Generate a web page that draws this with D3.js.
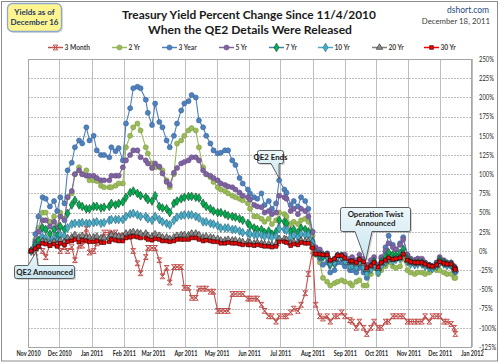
<!DOCTYPE html>
<html><head><meta charset="utf-8">
<script src="https://cdn.jsdelivr.net/npm/d3@7/dist/d3.min.js"></script>
<style>body{margin:0;background:#fff}svg{display:block}text{font-family:Lato,'Open Sans',sans-serif}</style>
</head><body>
<script>
const dates = ["2010-11-04","2010-11-08","2010-11-11","2010-11-15","2010-11-18","2010-11-22","2010-11-26","2010-11-29",
"2010-12-02","2010-12-06","2010-12-09","2010-12-13","2010-12-16","2010-12-20","2010-12-23","2010-12-27","2010-12-30",
"2011-01-03","2011-01-06","2011-01-10","2011-01-13","2011-01-18","2011-01-20","2011-01-24","2011-01-27","2011-01-31",
"2011-02-03","2011-02-07","2011-02-10","2011-02-14","2011-02-17","2011-02-22","2011-02-24","2011-02-28",
"2011-03-03","2011-03-07","2011-03-10","2011-03-14","2011-03-17","2011-03-21","2011-03-24","2011-03-28","2011-03-31",
"2011-04-04","2011-04-07","2011-04-11","2011-04-14","2011-04-18","2011-04-21","2011-04-25","2011-04-28",
"2011-05-02","2011-05-05","2011-05-09","2011-05-12","2011-05-16","2011-05-19","2011-05-23","2011-05-26","2011-05-31",
"2011-06-02","2011-06-06","2011-06-09","2011-06-13","2011-06-16","2011-06-20","2011-06-23","2011-06-27","2011-06-30",
"2011-07-05","2011-07-07","2011-07-11","2011-07-14","2011-07-18","2011-07-21","2011-07-25","2011-07-28",
"2011-08-01","2011-08-04","2011-08-08","2011-08-11","2011-08-15","2011-08-18","2011-08-22","2011-08-25","2011-08-29",
"2011-09-01","2011-09-06","2011-09-08","2011-09-12","2011-09-15","2011-09-19","2011-09-22","2011-09-26","2011-09-29",
"2011-10-03","2011-10-06","2011-10-10","2011-10-13","2011-10-17","2011-10-20","2011-10-24","2011-10-27","2011-10-31",
"2011-11-03","2011-11-07","2011-11-10","2011-11-14","2011-11-17","2011-11-21","2011-11-24","2011-11-28",
"2011-12-01","2011-12-05","2011-12-08","2011-12-12","2011-12-15","2011-12-16"];

const month3 = [0,-8,8,0,-8,8,15,8,
0,5,0,5,-12,7,7,29,-2,
0,10,15,24,24,22,24,19,20,
19,19,0,-16,-29,-8,4,4,
4,-12,-33,-22,-41,-21,-21,-21,-48,
-48,-61,-61,-49,-49,-49,-53,-53,
-78,-78,-78,-78,-56,-56,-56,-56,-62,
-62,-62,-62,-70,-78,-85,-85,-92,-85,
-85,-85,-80,-75,-78,-70,-55,-30,
0,-70,-85,-88,-85,-92,-85,-85,-80,
-85,-90,-92,-100,-92,-100,-108,-100,-92,
-100,-100,-92,-92,-85,-85,-85,-85,-92,
-92,-92,-92,-92,-85,-92,-85,-85,
-85,-92,-92,-95,-100,-108];

const yr2 = [0,15,30,50,50,38,45,32,
50,42,70,75,100,109,100,105,92,
92,91,85,83,83,83,85,88,88,
135,150,161,166,157,135,127,114,
109,109,105,92,83,100,140,144,150,
157,160,157,135,109,100,96,90,
83,80,78,75,72,70,68,66,62,
55,45,45,42,38,42,35,40,50,
48,45,35,38,35,40,42,38,
20,-5,-15,-35,-40,-45,-42,-40,-38,
-40,-42,-45,-40,-38,-45,-45,-30,-22,
-30,-25,-20,-15,-20,-22,-20,-10,-25,
-28,-30,-28,-28,-30,-28,-22,-25,
-25,-28,-30,-30,-35,-35];

const yr3 = [0,22,45,70,68,58,65,52,
70,62,105,115,135,144,140,161,144,
150,131,125,125,122,135,130,134,118,
166,186,212,214,212,197,180,164,
192,168,161,144,135,150,166,183,192,
195,203,200,170,161,150,140,131,
127,128,131,131,118,112,95,88,80,
75,70,68,75,60,65,55,62,92,
80,76,60,65,58,70,65,55,
25,0,-10,-18,-15,-28,-25,-15,-15,
-20,-25,-25,-28,-22,-28,-35,-22,-15,
-25,-10,5,20,8,2,10,18,-5,
-10,-12,-10,-12,-15,-18,-20,-15,
-10,-15,-18,-20,-25,-28];

const yr5 = [0,12,25,40,40,32,38,30,
45,40,70,78,100,105,100,98,98,
98,95,92,92,92,98,98,98,109,
118,125,131,131,122,118,114,108,
114,110,101,90,86,102,108,114,116,
118,122,122,118,105,100,98,95,
92,88,86,84,83,80,76,72,70,
67,60,58,57,50,52,48,50,72,
70,68,52,55,48,55,52,45,
25,5,2,-5,-3,-15,-12,-5,-5,
-5,-10,-8,-12,-5,-10,-18,-12,-8,
-18,-8,0,10,5,2,8,15,-5,
-10,-12,-10,-10,-15,-18,-20,-15,
-8,-12,-15,-15,-20,-22];

const yr7 = [0,8,14,30,28,22,28,20,
32,28,49,60,66,60,58,55,55,
58,58,56,57,58,62,60,62,64,
70,76,78,75,72,70,67,65,
72,58,56,55,50,62,65,68,70,
71,71,70,69,62,58,55,52,
50,50,48,46,45,44,42,40,36,
33,30,28,28,24,26,22,25,40,
38,36,26,28,24,30,28,25,
12,-2,-6,-8,-8,-18,-16,-8,-8,
-12,-18,-17,-20,-12,-18,-28,-20,-14,
-25,-14,-8,-2,-5,-6,-3,2,-10,
-14,-16,-15,-15,-18,-20,-22,-18,
-12,-15,-17,-17,-22,-24];

const yr10 = [0,4,7,18,17,13,17,13,
21,19,30,35,36,36,37,36,36,
37,38,36,37,40,41,41,41,41,
45,48,49,47,45,45,42,40,
45,41,38,36,34,40,44,46,47,
47,47,45,43,38,38,36,35,
33,30,30,30,28,28,26,24,23,
22,21,21,21,19,20,18,19,29,
28,27,18,20,18,22,21,21,
11,-2,-5,-5,-7,-16,-15,-8,-8,
-13,-20,-19,-21,-16,-21,-30,-24,-19,
-28,-19,-15,-11,-13,-11,-10,-3,-14,
-17,-18,-17,-17,-20,-22,-23,-20,
-15,-17,-19,-18,-23,-25];

const yr20 = [0,3,6,13,12,10,12,9,
14,12,17,18,21,18,20,18,18,
18,19,17,17,18,21,20,19,19,
23,24,25,24,23,23,20,19,
22,20,18,18,16,18,20,21,21,
21,23,23,21,18,19,18,17,
16,14,14,15,14,14,13,12,12,
11,10,11,10,9,9,8,9,16,
16,15,10,12,11,14,13,13,
6,-3,-4,-5,-5,-13,-11,-6,-6,
-10,-15,-14,-17,-12,-16,-24,-20,-16,
-23,-16,-13,-9,-11,-10,-9,-4,-12,
-15,-16,-16,-16,-18,-20,-21,-19,
-14,-16,-18,-17,-22,-25];

const yr30 = [0,3,6,10,9,7,9,6,
10,8,12,13,15,12,14,13,12,
12,13,11,11,12,15,14,13,13,
17,18,19,18,17,17,15,14,
16,15,13,13,12,13,15,15,15,
15,17,17,15,13,14,13,12,
12,10,10,11,10,10,9,8,8,
8,7,8,7,6,6,5,6,12,
12,11,7,9,8,11,10,10,
4,-4,-4,-5,-5,-12,-10,-6,-6,
-9,-13,-13,-15,-11,-14,-22,-19,-15,
-21,-15,-12,-9,-11,-10,-9,-4,-12,
-14,-15,-15,-15,-17,-19,-20,-18,
-14,-16,-17,-17,-22,-24];

const seriesNames = ["3 Month","2 Yr","3 Year","5 Yr","7 Yr","10 Yr","20 Yr","30 Yr"];
const seriesValues = [month3, yr2, yr3, yr5, yr7, yr10, yr20, yr30];
const yTicks = [-125,-100,-75,-50,-25,0,25,50,75,100,125,150,175,200,225,250];
const titleLines = ["Treasury Yield Percent Change Since 11/4/2010","When the QE2 Details Were Released"];
const noteLines = ["Yields as of","December 16"];
const sourceText = "dshort.com";
const dateText = "December 18, 2011";
const callouts = [
  {lines:["QE2 Announced"], date:"2010-11-04", value:0},
  {lines:["QE2 Ends"], date:"2011-06-30", value:97},
  {lines:["Operation Twist","Announced"], date:"2011-09-21", value:-10}
];

const styles = [
  {line:"#C0504D", fill:"none", stroke:"#C0504D", shape:"star", size:5},
  {line:"#9BBB59", fill:"#9BBB59", stroke:"#7E9C43", shape:"circle", size:20},
  {line:"#4F81BD", fill:"#4F81BD", stroke:"#3A659A", shape:"circle", size:20},
  {line:"#8064A2", fill:"#8064A2", stroke:"#654C84", shape:"circle", size:20},
  {line:"#4A7EBB", fill:"#00B050", stroke:"#17452A", shape:"diamond", size:22},
  {line:"#4BACC6", fill:"#4BACC6", stroke:"#27657A", shape:"diamond", size:22},
  {line:"#7F7F7F", fill:"#8C8C8C", stroke:"#262626", shape:"triangle", size:18},
  {line:"#FF0000", fill:"#FF0000", stroke:"#1A0000", shape:"square", size:14}
];

const parse = d3.timeParse("%Y-%m-%d");
const X = dates.map(parse);
const svg = d3.select("body").append("svg").attr("width",500).attr("height",363);

const x = d3.scaleTime().domain([new Date(2010,10,1), new Date(2012,0,1)]).range([28,472]);
const y = d3.scaleLinear().domain([-125,250]).range([347,59]);

function condense(sel,f){sel.each(function(){const l=this.getComputedTextLength();d3.select(this).attr("textLength",(l*f).toFixed(1)).attr("lengthAdjust","spacingAndGlyphs");});}

svg.append("rect").attr("x",1.5).attr("y",1.5).attr("width",496).attr("height",359.5)
  .attr("fill","#fff").attr("stroke","#8C8C8C").attr("stroke-width",1);

const months = d3.timeMonth.range(new Date(2010,10,1), new Date(2012,0,2));
svg.append("g").selectAll("line").data(yTicks).join("line")
  .attr("x1",28).attr("x2",472).attr("y1",d=>Math.round(y(d))+0.5).attr("y2",d=>Math.round(y(d))+0.5)
  .attr("stroke","#BDBDBD").attr("stroke-width",1).attr("stroke-dasharray","2,1");
svg.append("g").selectAll("line").data(months).join("line")
  .attr("y1",59).attr("y2",347).attr("x1",d=>Math.round(x(d))+0.5).attr("x2",d=>Math.round(x(d))+0.5)
  .attr("stroke","#BDBDBD").attr("stroke-width",1);
svg.append("rect").attr("x",28.5).attr("y",59.5).attr("width",443).attr("height",288)
  .attr("fill","none").attr("stroke","#A6A6A6");

const gx = svg.append("g").attr("transform","translate(0,347)")
  .call(d3.axisBottom(x).tickValues(months).tickFormat(d3.timeFormat("%b %Y")).tickSize(0).tickPadding(4.5));
gx.select(".domain").remove();
gx.selectAll("text").attr("font-size","6.9px").attr("font-weight","bold").attr("fill","#262626")
  .style("font-family","Lato,'Open Sans',sans-serif");
condense(gx.selectAll("text"),0.8);

const gy = svg.append("g").attr("transform","translate(472,0)")
  .call(d3.axisRight(y).tickValues(yTicks).tickFormat(d=>d+"%").tickSize(0).tickPadding(7));
gy.select(".domain").remove();
gy.selectAll("text").attr("font-size","6.9px").attr("fill","#262626")
  .style("font-family","Lato,'Open Sans',sans-serif");
condense(gy.selectAll("text"),0.85);

function markerPath(shape,size){
  if(shape==="star"){const s=2.4;return `M${-s},${-s}L${s},${-s}M${-s},${s}L${s},${s}M${-s},${-s}L${s},${s}M${s},${-s}L${-s},${s}`;}
  const t={circle:d3.symbolCircle,diamond:d3.symbolDiamond,triangle:d3.symbolTriangle,square:d3.symbolSquare}[shape];
  return d3.symbol(t,size)();
}

const lineGen = d3.line().x(d=>x(d[0])).y(d=>y(d[1]));
const plot = svg.append("g");
seriesValues.forEach((vals,i)=>{
  const st = styles[i];
  const pts = vals.map((v,j)=>[X[j],v]);
  const g = plot.append("g");
  g.append("path").attr("d",lineGen(pts)).attr("fill","none").attr("stroke",st.line).attr("stroke-width",1.1);
  const mp = markerPath(st.shape,st.size);
  g.selectAll("path.m").data(pts).join("path").attr("class","m")
    .attr("transform",d=>`translate(${x(d[0])},${y(d[1])})`).attr("d",mp)
    .attr("fill",st.fill).attr("stroke",st.stroke).attr("stroke-width",st.shape==="star"?1:0.6);
});

const legX = [48,112,162,219,269,318,372,424];
const legY = 47.5;
const lg = svg.append("g");
seriesNames.forEach((n,i)=>{
  const st = styles[i], x0 = legX[i];
  lg.append("line").attr("x1",x0).attr("x2",x0+15).attr("y1",legY).attr("y2",legY).attr("stroke",st.line).attr("stroke-width",1.5);
  lg.append("path").attr("transform",`translate(${x0+7.5},${legY})`).attr("d",markerPath(st.shape,st.size))
    .attr("fill",st.fill).attr("stroke",st.stroke).attr("stroke-width",st.shape==="star"?1:0.6);
  const t = lg.append("text").attr("x",x0+16.5).attr("y",legY+2.6).attr("font-size","7.4px").attr("font-weight","bold")
    .attr("fill","#404040").text(n);
  condense(t,0.9);
});

function fitText(sel,target){const l=sel.node().getComputedTextLength();const fs=parseFloat(sel.attr("font-size"));sel.attr("font-size",(fs*target/l).toFixed(2)+"px");}
const t1 = svg.append("text").attr("x",249).attr("y",18.5).attr("text-anchor","middle").attr("font-size","14px")
  .attr("font-weight","bold").attr("fill","#1A1A1A").text(titleLines[0]);
fitText(t1,254);
const t2 = svg.append("text").attr("x",250).attr("y",33.5).attr("text-anchor","middle").attr("font-size","14px")
  .attr("font-weight","bold").attr("fill","#1A1A1A").text(titleLines[1]);
fitText(t2,204);

svg.append("text").attr("x",489).attr("y",12.5).attr("text-anchor","end").attr("font-size","8.5px")
  .attr("fill","#1F497D").text(sourceText);
svg.append("text").attr("x",490).attr("y",23.5).attr("text-anchor","end").attr("font-size","7.8px")
  .attr("fill","#404040").text(dateText);

svg.append("rect").attr("x",9).attr("y",5).attr("width",54).attr("height",28).attr("rx",5)
  .attr("fill","#A0A0A0").attr("opacity",0.35);
svg.append("rect").attr("x",7.5).attr("y",3.5).attr("width",54).attr("height",28).attr("rx",5)
  .attr("fill","#FFF58F").attr("stroke","#8EA9CC").attr("stroke-width",1.3);
noteLines.forEach((s,i)=>svg.append("text").attr("x",34.5).attr("y",14.8+i*10.6).attr("text-anchor","middle")
  .attr("font-size","8px").attr("font-weight","bold").attr("fill","#1F3864").text(s));

const defs = svg.append("defs");
const grad = defs.append("linearGradient").attr("id","cg").attr("x1",0).attr("y1",0).attr("x2",0).attr("y2",1);
grad.append("stop").attr("offset","0%").attr("stop-color","#EEF7FA");
grad.append("stop").attr("offset","100%").attr("stop-color","#C9E5EF");
function calloutPath(bx,by,w,h,side,w1,w2,tx,ty){
  const r=2;
  if(side==="bottom"){
    return `M${bx+r},${by}L${bx+w-r},${by}Q${bx+w},${by} ${bx+w},${by+r}L${bx+w},${by+h-r}Q${bx+w},${by+h} ${bx+w-r},${by+h}`+
      `L${w2},${by+h}L${tx},${ty}L${w1},${by+h}L${bx+r},${by+h}Q${bx},${by+h} ${bx},${by+h-r}L${bx},${by+r}Q${bx},${by} ${bx+r},${by}Z`;
  }
  return `M${bx+r},${by}L${w1},${by}L${tx},${ty}L${w2},${by}L${bx+w-r},${by}Q${bx+w},${by} ${bx+w},${by+r}L${bx+w},${by+h-r}Q${bx+w},${by+h} ${bx+w-r},${by+h}`+
    `L${bx+r},${by+h}Q${bx},${by+h} ${bx},${by+h-r}L${bx},${by+r}Q${bx},${by} ${bx+r},${by}Z`;
}
const cLayout = [
  {bx:14.5,by:265.5,w:60,h:13,side:"top",w1:28,w2:38,dx:5,dy:1},
  {bx:257.5,by:150.5,w:26,h:13,side:"bottom",w1:271,w2:279,dx:0,dy:2},
  {bx:340.5,by:207.5,w:70,h:24,side:"bottom",w1:355,w2:372,dx:0,dy:2}
];
callouts.forEach((c,i)=>{
  const L=cLayout[i];
  const tx=x(parse(c.date))+L.dx, ty=y(c.value)+L.dy;
  const d=calloutPath(L.bx,L.by,L.w,L.h,L.side,L.w1,L.w2,tx,ty);
  svg.append("path").attr("d",d).attr("transform","translate(1.5,1.5)").attr("fill","#808080").attr("opacity",0.35);
  svg.append("path").attr("d",d).attr("fill","url(#cg)").attr("stroke","#3A3A3A").attr("stroke-width",0.8);
  c.lines.forEach((s,k)=>svg.append("text").attr("x",L.bx+L.w/2).attr("y",L.by+9.3+k*9.6).attr("text-anchor","middle")
    .attr("font-size","7.8px").attr("font-weight","bold").attr("fill","#1A1A1A").text(s));
});
</script>
</body></html>
